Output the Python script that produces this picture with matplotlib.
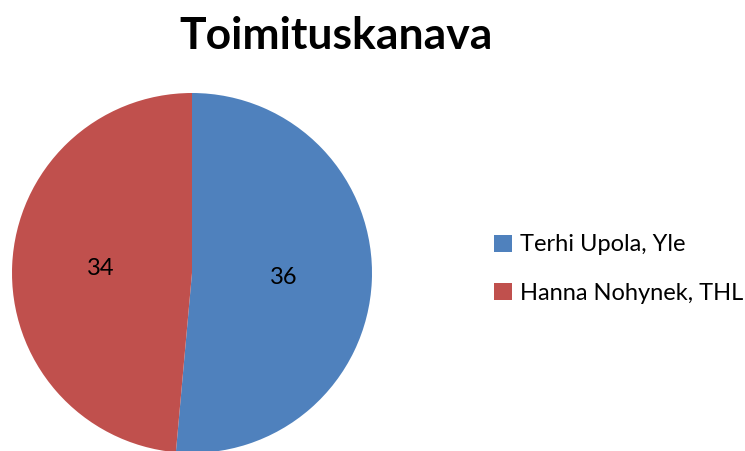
import matplotlib.pyplot as plt
from matplotlib.patches import Patch

# Data
labels = ['Terhi Upola, Yle', 'Hanna Nohynek, THL']
values = [36, 34]
colors = ['#4F81BD', '#C0504D']

plt.rcParams['font.family'] = ['Lato', 'DejaVu Sans']

W, H = 745, 451
fig = plt.figure(figsize=(W / 100, H / 100), dpi=100)

# pie centre (192, 273) px from top, radius 180 px
cx, cy, r = 192, 273, 180
ax = fig.add_axes([(cx - r) / W, (H - cy - r) / H, 2 * r / W, 2 * r / H])
wedges, texts = ax.pie(values, colors=colors, startangle=90, counterclock=False,
                       labels=[str(v) for v in values], labeldistance=0.51,
                       textprops={'fontsize': 17, 'color': 'black'},
                       wedgeprops={'linewidth': 0})
for w in wedges:
    w.set_clip_on(False)
for t in texts:
    t.set_ha('center')
    t.set_va('center')
ax.set_xlim(-1, 1)
ax.set_ylim(-1, 1)
ax.set_aspect('equal')
ax.axis('off')

fig.text(336 / W, 1 - 36 / H, 'Toimituskanava', fontsize=32, fontweight='bold',
         ha='center', va='center')

handles = [Patch(facecolor=c, edgecolor='none') for c in colors]
fig.legend(handles, labels, loc='center left', bbox_to_anchor=(494 / W, 1 - 269 / H),
           frameon=False, fontsize=17, handlelength=0.75, handleheight=0.75,
           handletextpad=0.35, labelspacing=1.15, borderaxespad=0, borderpad=0)

fig.savefig('out.png', dpi=100)
